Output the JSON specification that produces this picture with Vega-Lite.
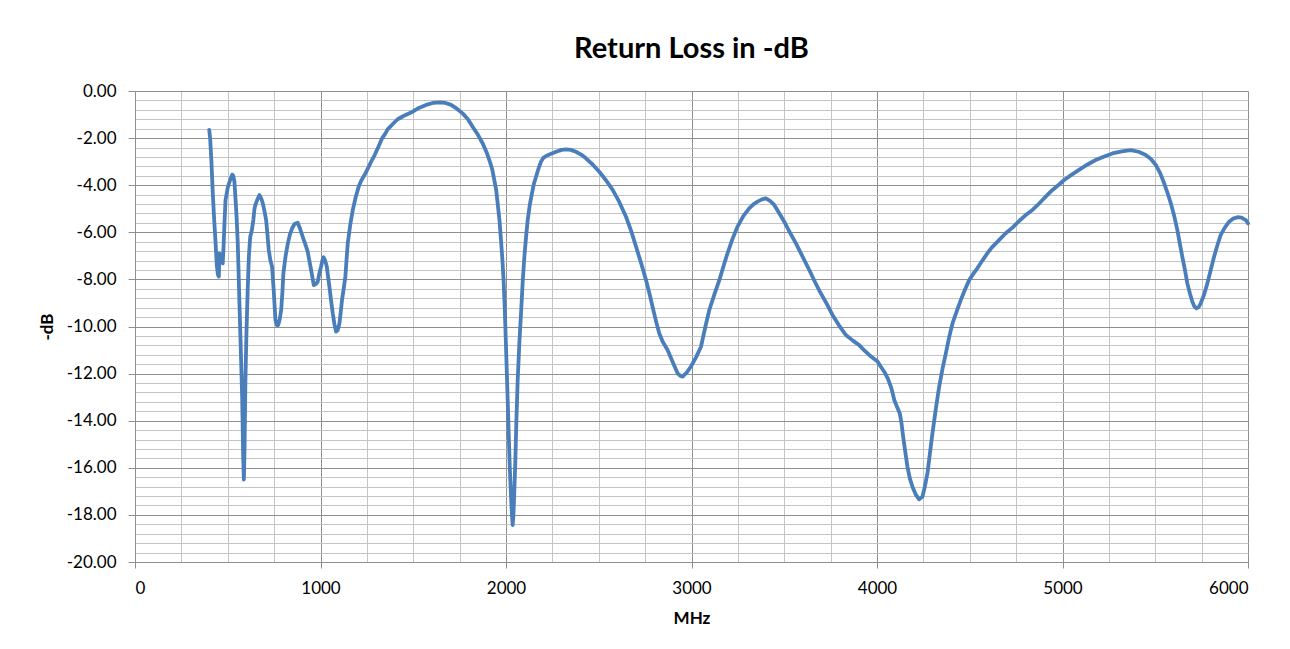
{
  "$schema": "https://vega.github.io/schema/vega-lite/v6.json",
  "width": 1113,
  "height": 471,
  "autosize": {"type": "none"},
  "padding": {"left": 135, "top": 91, "right": 42, "bottom": 87},
  "background": "white",
  "title": {"text": "Return Loss in -dB", "font": "Lato", "fontSize": 29, "fontWeight": "bold", "color": "#000000", "anchor": "middle", "baseline": "alphabetic", "offset": -5},
  "config": {"view": {"stroke": null}},
  "data": {"values": [
    {"MHz": 400, "dB": -1.65}, {"MHz": 405, "dB": -2.0}, {"MHz": 412, "dB": -3.0}, {"MHz": 419, "dB": -4.3}, {"MHz": 427, "dB": -5.5},
    {"MHz": 434, "dB": -6.4}, {"MHz": 441, "dB": -7.4}, {"MHz": 447, "dB": -7.8}, {"MHz": 452, "dB": -7.88}, {"MHz": 455, "dB": -6.9},
    {"MHz": 462, "dB": -7.0}, {"MHz": 468, "dB": -7.25}, {"MHz": 473, "dB": -7.32}, {"MHz": 478, "dB": -6.5}, {"MHz": 483, "dB": -5.5}, {"MHz": 488, "dB": -4.63},
    {"MHz": 500, "dB": -4.1}, {"MHz": 512, "dB": -3.8}, {"MHz": 524, "dB": -3.55}, {"MHz": 530, "dB": -3.6}, {"MHz": 536, "dB": -3.85},
    {"MHz": 542, "dB": -4.6}, {"MHz": 548, "dB": -5.4}, {"MHz": 554, "dB": -6.47}, {"MHz": 563, "dB": -9.0}, {"MHz": 570, "dB": -10.9},
    {"MHz": 578, "dB": -13.1}, {"MHz": 583, "dB": -15.5}, {"MHz": 587, "dB": -16.5}, {"MHz": 591, "dB": -15.0}, {"MHz": 595, "dB": -12.4},
    {"MHz": 601, "dB": -10.2}, {"MHz": 608, "dB": -8.3}, {"MHz": 614, "dB": -7.0}, {"MHz": 621, "dB": -6.2}, {"MHz": 630, "dB": -5.9},
    {"MHz": 638, "dB": -5.48}, {"MHz": 644, "dB": -5.0}, {"MHz": 649, "dB": -4.84}, {"MHz": 660, "dB": -4.6}, {"MHz": 671, "dB": -4.42},
    {"MHz": 680, "dB": -4.55}, {"MHz": 689, "dB": -4.77}, {"MHz": 698, "dB": -5.1}, {"MHz": 707, "dB": -5.48}, {"MHz": 714, "dB": -6.1},
    {"MHz": 721, "dB": -6.75}, {"MHz": 730, "dB": -7.2}, {"MHz": 739, "dB": -7.46}, {"MHz": 748, "dB": -8.5}, {"MHz": 757, "dB": -9.72},
    {"MHz": 765, "dB": -9.95}, {"MHz": 772, "dB": -9.94}, {"MHz": 780, "dB": -9.7}, {"MHz": 788, "dB": -9.3}, {"MHz": 795, "dB": -8.5},
    {"MHz": 800, "dB": -7.74}, {"MHz": 812, "dB": -7.0}, {"MHz": 824, "dB": -6.47}, {"MHz": 835, "dB": -6.1}, {"MHz": 847, "dB": -5.83},
    {"MHz": 860, "dB": -5.65}, {"MHz": 877, "dB": -5.59}, {"MHz": 890, "dB": -5.85}, {"MHz": 904, "dB": -6.19}, {"MHz": 918, "dB": -6.5},
    {"MHz": 931, "dB": -6.82}, {"MHz": 947, "dB": -7.5}, {"MHz": 964, "dB": -8.24}, {"MHz": 975, "dB": -8.2}, {"MHz": 985, "dB": -8.1},
    {"MHz": 995, "dB": -7.7}, {"MHz": 1003, "dB": -7.46}, {"MHz": 1010, "dB": -7.2}, {"MHz": 1017, "dB": -7.06}, {"MHz": 1025, "dB": -7.2},
    {"MHz": 1034, "dB": -7.46}, {"MHz": 1041, "dB": -7.9}, {"MHz": 1048, "dB": -8.3}, {"MHz": 1057, "dB": -8.9}, {"MHz": 1066, "dB": -9.44},
    {"MHz": 1075, "dB": -9.9}, {"MHz": 1084, "dB": -10.22}, {"MHz": 1093, "dB": -10.15}, {"MHz": 1102, "dB": -9.87}, {"MHz": 1109, "dB": -9.4},
    {"MHz": 1116, "dB": -8.87}, {"MHz": 1125, "dB": -8.4}, {"MHz": 1134, "dB": -7.89}, {"MHz": 1140, "dB": -7.2}, {"MHz": 1147, "dB": -6.47},
    {"MHz": 1160, "dB": -5.7}, {"MHz": 1174, "dB": -5.05}, {"MHz": 1190, "dB": -4.5}, {"MHz": 1206, "dB": -4.06}, {"MHz": 1220, "dB": -3.8},
    {"MHz": 1237, "dB": -3.57}, {"MHz": 1255, "dB": -3.3}, {"MHz": 1273, "dB": -3.0}, {"MHz": 1287, "dB": -2.8}, {"MHz": 1300, "dB": -2.58},
    {"MHz": 1316, "dB": -2.3}, {"MHz": 1332, "dB": -2.01}, {"MHz": 1350, "dB": -1.8}, {"MHz": 1362, "dB": -1.63}, {"MHz": 1390, "dB": -1.4},
    {"MHz": 1416, "dB": -1.2}, {"MHz": 1450, "dB": -1.05}, {"MHz": 1497, "dB": -0.88}, {"MHz": 1530, "dB": -0.72}, {"MHz": 1569, "dB": -0.59},
    {"MHz": 1610, "dB": -0.5}, {"MHz": 1641, "dB": -0.48}, {"MHz": 1670, "dB": -0.5}, {"MHz": 1704, "dB": -0.59}, {"MHz": 1735, "dB": -0.75},
    {"MHz": 1766, "dB": -0.95}, {"MHz": 1795, "dB": -1.2}, {"MHz": 1820, "dB": -1.52}, {"MHz": 1848, "dB": -1.85}, {"MHz": 1874, "dB": -2.22},
    {"MHz": 1895, "dB": -2.6}, {"MHz": 1910, "dB": -2.93}, {"MHz": 1925, "dB": -3.3}, {"MHz": 1937, "dB": -3.78}, {"MHz": 1947, "dB": -4.2},
    {"MHz": 1955, "dB": -4.77}, {"MHz": 1965, "dB": -5.5}, {"MHz": 1973, "dB": -6.33}, {"MHz": 1980, "dB": -7.1}, {"MHz": 1987, "dB": -8.03},
    {"MHz": 1994, "dB": -9.4}, {"MHz": 2000, "dB": -10.86}, {"MHz": 2007, "dB": -12.6}, {"MHz": 2014, "dB": -14.4}, {"MHz": 2020, "dB": -15.9},
    {"MHz": 2027, "dB": -17.2}, {"MHz": 2032, "dB": -18.0}, {"MHz": 2036, "dB": -18.43}, {"MHz": 2040, "dB": -18.0}, {"MHz": 2044, "dB": -17.2},
    {"MHz": 2050, "dB": -15.8}, {"MHz": 2056, "dB": -14.0}, {"MHz": 2063, "dB": -12.27}, {"MHz": 2072, "dB": -10.7}, {"MHz": 2081, "dB": -9.44},
    {"MHz": 2090, "dB": -8.1}, {"MHz": 2099, "dB": -7.04}, {"MHz": 2108, "dB": -6.2}, {"MHz": 2117, "dB": -5.48}, {"MHz": 2128, "dB": -4.85},
    {"MHz": 2140, "dB": -4.35}, {"MHz": 2150, "dB": -3.95}, {"MHz": 2162, "dB": -3.64}, {"MHz": 2175, "dB": -3.3}, {"MHz": 2189, "dB": -3.0},
    {"MHz": 2200, "dB": -2.85}, {"MHz": 2216, "dB": -2.76}, {"MHz": 2240, "dB": -2.68}, {"MHz": 2270, "dB": -2.58}, {"MHz": 2300, "dB": -2.5},
    {"MHz": 2324, "dB": -2.48}, {"MHz": 2350, "dB": -2.5}, {"MHz": 2377, "dB": -2.58}, {"MHz": 2405, "dB": -2.7}, {"MHz": 2431, "dB": -2.86},
    {"MHz": 2467, "dB": -3.12}, {"MHz": 2503, "dB": -3.43}, {"MHz": 2540, "dB": -3.8}, {"MHz": 2575, "dB": -4.2}, {"MHz": 2610, "dB": -4.7},
    {"MHz": 2647, "dB": -5.34}, {"MHz": 2675, "dB": -5.95}, {"MHz": 2701, "dB": -6.61}, {"MHz": 2728, "dB": -7.3}, {"MHz": 2755, "dB": -8.03},
    {"MHz": 2775, "dB": -8.65}, {"MHz": 2790, "dB": -9.16}, {"MHz": 2808, "dB": -9.75}, {"MHz": 2826, "dB": -10.29}, {"MHz": 2845, "dB": -10.65},
    {"MHz": 2871, "dB": -11.0}, {"MHz": 2898, "dB": -11.5}, {"MHz": 2925, "dB": -11.99}, {"MHz": 2940, "dB": -12.1}, {"MHz": 2952, "dB": -12.13},
    {"MHz": 2975, "dB": -11.95}, {"MHz": 2997, "dB": -11.7}, {"MHz": 3025, "dB": -11.3}, {"MHz": 3051, "dB": -10.86}, {"MHz": 3075, "dB": -10.0},
    {"MHz": 3096, "dB": -9.3}, {"MHz": 3123, "dB": -8.65}, {"MHz": 3150, "dB": -8.03}, {"MHz": 3172, "dB": -7.45}, {"MHz": 3194, "dB": -6.89},
    {"MHz": 3220, "dB": -6.3}, {"MHz": 3248, "dB": -5.76}, {"MHz": 3280, "dB": -5.3}, {"MHz": 3311, "dB": -4.98}, {"MHz": 3335, "dB": -4.8},
    {"MHz": 3356, "dB": -4.7}, {"MHz": 3380, "dB": -4.6}, {"MHz": 3401, "dB": -4.56}, {"MHz": 3425, "dB": -4.68}, {"MHz": 3446, "dB": -4.84},
    {"MHz": 3473, "dB": -5.19}, {"MHz": 3500, "dB": -5.55}, {"MHz": 3530, "dB": -6.0}, {"MHz": 3563, "dB": -6.47}, {"MHz": 3600, "dB": -7.05},
    {"MHz": 3635, "dB": -7.6}, {"MHz": 3665, "dB": -8.1}, {"MHz": 3697, "dB": -8.59}, {"MHz": 3730, "dB": -9.05}, {"MHz": 3760, "dB": -9.51},
    {"MHz": 3795, "dB": -9.95}, {"MHz": 3832, "dB": -10.36}, {"MHz": 3870, "dB": -10.6}, {"MHz": 3904, "dB": -10.79}, {"MHz": 3930, "dB": -11.0},
    {"MHz": 3958, "dB": -11.21}, {"MHz": 3980, "dB": -11.35}, {"MHz": 4003, "dB": -11.49}, {"MHz": 4020, "dB": -11.7}, {"MHz": 4039, "dB": -11.92},
    {"MHz": 4058, "dB": -12.2}, {"MHz": 4075, "dB": -12.56}, {"MHz": 4085, "dB": -12.85}, {"MHz": 4093, "dB": -13.12}, {"MHz": 4110, "dB": -13.45},
    {"MHz": 4123, "dB": -13.69}, {"MHz": 4132, "dB": -14.1}, {"MHz": 4141, "dB": -14.68}, {"MHz": 4152, "dB": -15.3}, {"MHz": 4164, "dB": -15.95},
    {"MHz": 4177, "dB": -16.45}, {"MHz": 4191, "dB": -16.8}, {"MHz": 4210, "dB": -17.15}, {"MHz": 4227, "dB": -17.34}, {"MHz": 4245, "dB": -17.23},
    {"MHz": 4258, "dB": -16.8}, {"MHz": 4272, "dB": -16.23}, {"MHz": 4285, "dB": -15.4}, {"MHz": 4299, "dB": -14.53}, {"MHz": 4317, "dB": -13.5},
    {"MHz": 4335, "dB": -12.56}, {"MHz": 4353, "dB": -11.8}, {"MHz": 4371, "dB": -11.14}, {"MHz": 4389, "dB": -10.45}, {"MHz": 4407, "dB": -9.87},
    {"MHz": 4430, "dB": -9.35}, {"MHz": 4452, "dB": -8.87}, {"MHz": 4475, "dB": -8.42}, {"MHz": 4497, "dB": -8.03}, {"MHz": 4520, "dB": -7.75},
    {"MHz": 4541, "dB": -7.53}, {"MHz": 4568, "dB": -7.2}, {"MHz": 4595, "dB": -6.89}, {"MHz": 4618, "dB": -6.65}, {"MHz": 4641, "dB": -6.47},
    {"MHz": 4668, "dB": -6.25}, {"MHz": 4694, "dB": -6.04}, {"MHz": 4730, "dB": -5.8}, {"MHz": 4766, "dB": -5.52}, {"MHz": 4800, "dB": -5.28},
    {"MHz": 4838, "dB": -5.05}, {"MHz": 4865, "dB": -4.85}, {"MHz": 4892, "dB": -4.63}, {"MHz": 4920, "dB": -4.4}, {"MHz": 4946, "dB": -4.2},
    {"MHz": 4980, "dB": -3.98}, {"MHz": 5009, "dB": -3.78}, {"MHz": 5050, "dB": -3.55}, {"MHz": 5089, "dB": -3.35}, {"MHz": 5135, "dB": -3.12},
    {"MHz": 5179, "dB": -2.93}, {"MHz": 5225, "dB": -2.78}, {"MHz": 5269, "dB": -2.65}, {"MHz": 5320, "dB": -2.56}, {"MHz": 5368, "dB": -2.51},
    {"MHz": 5410, "dB": -2.58}, {"MHz": 5449, "dB": -2.72}, {"MHz": 5478, "dB": -2.9}, {"MHz": 5503, "dB": -3.14}, {"MHz": 5527, "dB": -3.5},
    {"MHz": 5548, "dB": -3.92}, {"MHz": 5567, "dB": -4.35}, {"MHz": 5584, "dB": -4.77}, {"MHz": 5602, "dB": -5.3}, {"MHz": 5619, "dB": -5.9},
    {"MHz": 5633, "dB": -6.5}, {"MHz": 5646, "dB": -7.04}, {"MHz": 5660, "dB": -7.6}, {"MHz": 5673, "dB": -8.17}, {"MHz": 5687, "dB": -8.6},
    {"MHz": 5700, "dB": -8.95}, {"MHz": 5711, "dB": -9.15}, {"MHz": 5722, "dB": -9.23}, {"MHz": 5734, "dB": -9.18}, {"MHz": 5745, "dB": -9.02},
    {"MHz": 5763, "dB": -8.65}, {"MHz": 5781, "dB": -8.17}, {"MHz": 5799, "dB": -7.6}, {"MHz": 5817, "dB": -7.04}, {"MHz": 5835, "dB": -6.55},
    {"MHz": 5853, "dB": -6.11}, {"MHz": 5875, "dB": -5.8}, {"MHz": 5898, "dB": -5.55}, {"MHz": 5920, "dB": -5.42}, {"MHz": 5943, "dB": -5.36},
    {"MHz": 5965, "dB": -5.38}, {"MHz": 5988, "dB": -5.48}, {"MHz": 6000, "dB": -5.62}
  ]},
  "resolve": {"axis": {"x": "independent", "y": "independent"}},
  "layer": [
    {
      "mark": {"type": "line", "strokeOpacity": 0},
      "encoding": {
        "x": {"field": "MHz", "type": "quantitative", "scale": {"domain": [0, 6000], "nice": false, "zero": false},
          "axis": {"orient": "bottom", "values": [250, 500, 750, 1250, 1500, 1750, 2250, 2500, 2750, 3250, 3500, 3750, 4250, 4500, 4750, 5250, 5500, 5750],
            "grid": true, "gridColor": "#c4c4c4", "gridWidth": 1, "gridOpacity": 1, "labels": false, "ticks": false, "domain": false, "title": null}},
        "y": {"field": "dB", "type": "quantitative", "scale": {"domain": [-20, 0], "nice": false, "zero": false},
          "axis": {"orient": "left", "values": [-0.4, -0.8, -1.2, -1.6, -2.4, -2.8, -3.2, -3.6, -4.4, -4.8, -5.2, -5.6, -6.4, -6.8, -7.2, -7.6, -8.4, -8.8, -9.2, -9.6, -10.4, -10.8, -11.2, -11.6, -12.4, -12.8, -13.2, -13.6, -14.4, -14.8, -15.2, -15.6, -16.4, -16.8, -17.2, -17.6, -18.4, -18.8, -19.2, -19.6],
            "grid": true, "gridColor": "#c4c4c4", "gridWidth": 1, "gridOpacity": 1, "labels": false, "ticks": false, "domain": false, "title": null}}
      }
    },
    {
      "mark": {"type": "line", "color": "#4a7ebb", "strokeWidth": 3.8, "strokeJoin": "round", "strokeCap": "round"},
      "encoding": {
        "x": {"field": "MHz", "type": "quantitative", "scale": {"domain": [0, 6000], "nice": false, "zero": false},
          "axis": {"orient": "bottom", "values": [0, 1000, 2000, 3000, 4000, 5000, 6000], "format": "d",
            "grid": true, "gridColor": "#8f8f8f", "gridWidth": 1, "gridOpacity": 1,
            "domain": true, "domainColor": "#8f8f8f", "domainWidth": 1,
            "ticks": true, "tickColor": "#8f8f8f", "tickSize": 6, "tickWidth": 1,
            "labelFont": "Lato", "labelFontSize": 17, "labelColor": "#000000", "labelPadding": 12,
            "title": "MHz", "titleFont": "Lato", "titleFontSize": 17, "titleFontWeight": "bold", "titleColor": "#000000", "titlePadding": 14}},
        "y": {"field": "dB", "type": "quantitative", "scale": {"domain": [-20, 0], "nice": false, "zero": false},
          "axis": {"orient": "left", "values": [0, -2, -4, -6, -8, -10, -12, -14, -16, -18, -20],
            "labelExpr": "replace(format(datum.value, '.2f'), '\u2212', '-')",
            "grid": true, "gridColor": "#8f8f8f", "gridWidth": 1, "gridOpacity": 1,
            "domain": true, "domainColor": "#8f8f8f", "domainWidth": 1,
            "ticks": true, "tickColor": "#8f8f8f", "tickSize": 7, "tickWidth": 1,
            "labelFont": "Lato", "labelFontSize": 17, "labelColor": "#000000", "labelPadding": 12,
            "title": "-dB", "titleFont": "Lato", "titleFontSize": 17, "titleFontWeight": "bold", "titleColor": "#000000", "titlePadding": 10}}
      }
    }
  ]
}
